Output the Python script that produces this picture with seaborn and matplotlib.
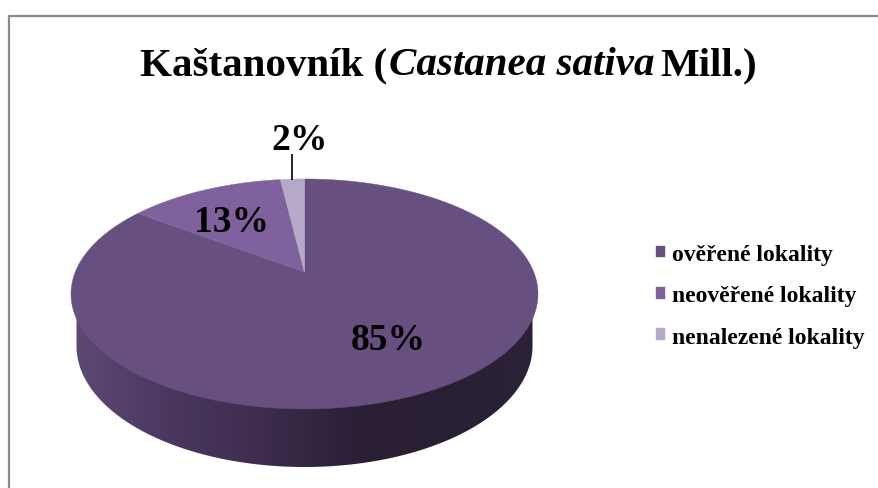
import numpy as np
import matplotlib
matplotlib.use("Agg")
import matplotlib.pyplot as plt
import seaborn as sns
from matplotlib.colors import LinearSegmentedColormap
from matplotlib.patches import Polygon
from matplotlib.path import Path
from matplotlib.transforms import Affine2D, Transform

categories = ["ověřené lokality", "neověřené lokality", "nenalezené lokality"]
shares = [85, 13, 2]
slice_colors = ["#674f7f", "#7f629d", "#b6a9c7"]
label_xy = [(388, 340), (232, 222), (300, 140)]

# Perspective parameters of the disc, in pixels
APEX = (304.5, 273.0)
SCALE_X, SCALE_Y, TILT = 229.2, 110.8, 0.191
SERIF = "Liberation Serif"


class DiscProjection(Transform):
    """Projects the unit circle of the pie onto a tilted disc."""
    input_dims = output_dims = 2
    is_affine = False

    def transform_non_affine(self, values):
        values = np.asarray(values, dtype=float)
        w = 1 + TILT * values[:, 1]
        return np.column_stack((APEX[0] + SCALE_X * values[:, 0] / w,
                                APEX[1] - SCALE_Y * values[:, 1] / w))

    def transform_path_non_affine(self, path):
        # Flatten the curves first so that the rim stays smooth after projection
        polys = path.transformed(Affine2D().scale(2000)).to_polygons(closed_only=True)
        verts = np.vstack(polys) / 2000
        return Path(self.transform_non_affine(verts), closed=True)


sns.set_theme(style="white")
fig = plt.figure(figsize=(8.79, 4.89), dpi=100, facecolor="white")
ax = fig.add_axes([0, 0, 1, 1])

wedges, _, autotexts = ax.pie(
    shares, colors=sns.color_palette(slice_colors), startangle=90, counterclock=False,
    autopct=lambda p: f"{p:.0f}%",
    textprops={"family": SERIF, "weight": "bold", "fontsize": 27, "color": "black"},
)
projection = DiscProjection() + ax.transData
for wedge in wedges:
    wedge.set_edgecolor(wedge.get_facecolor())
    wedge.set_linewidth(0.3)
    wedge.set_transform(projection)
    wedge.set_clip_on(False)
for text, xy in zip(autotexts, label_xy):
    text.set_position(xy)
    text.set_ha("center")
    text.set_va("center")

# Side wall of the disc with a left-to-right shading
theta = np.linspace(np.pi, 0, 200)
wall_outline = np.column_stack((304.5 + 228 * np.cos(theta), 347 + 121 * np.sin(theta)))
wall_outline = np.vstack(([76.5, 295], wall_outline, [532.5, 295]))
wall_cmap = LinearSegmentedColormap.from_list(
    "wall", ["#5e4874", "#4a3860", "#3e2d4e", "#2c2038", "#291f33", "#2c2238"])
wall = ax.imshow(np.linspace(0, 1, 256)[None, :], cmap=wall_cmap, aspect="auto",
                 extent=(76, 533, 470, 295), interpolation="bilinear", zorder=0)
wall.set_clip_path(Polygon(wall_outline, closed=True, transform=ax.transData))

# Leader line of the smallest slice
ax.plot([292.5, 292.5], [155, 181], color="black", lw=1.2, solid_capstyle="butt")

ax.set_aspect("auto")
ax.set_xlim(0, 879)
ax.set_ylim(489, 0)
ax.axis("off")

# Title assembled from upright and italic runs
TITLE_SIZE = 29.5
title_runs = [("Kaštanovník (", "normal", 2), ("Castanea sativa", "italic", 6), ("Mill.)", "normal", 0)]
fig.canvas.draw()
renderer = fig.canvas.get_renderer()
x = 140.0
for run, style, gap in title_runs:
    artist = ax.text(x, 75, run, family=SERIF, style=style, weight="bold",
                     fontsize=TITLE_SIZE, color="black", ha="left", va="baseline")
    x += artist.get_window_extent(renderer).width + gap

legend = ax.legend(wedges, categories, loc="upper left", bbox_to_anchor=(656, 245),
                   bbox_transform=ax.transData, frameon=False, handlelength=0.38,
                   handleheight=0.38, handletextpad=0.3, labelspacing=0.86, borderpad=0,
                   borderaxespad=0, prop={"family": SERIF, "weight": "bold", "size": 17})
for text in legend.get_texts():
    text.set_color("black")

# Chart area frame
ax.plot([9, 9, 879], [489, 17, 17], color="#8a8a8a", lw=1.6, clip_on=False)

fig.savefig("out.png", dpi=100)
